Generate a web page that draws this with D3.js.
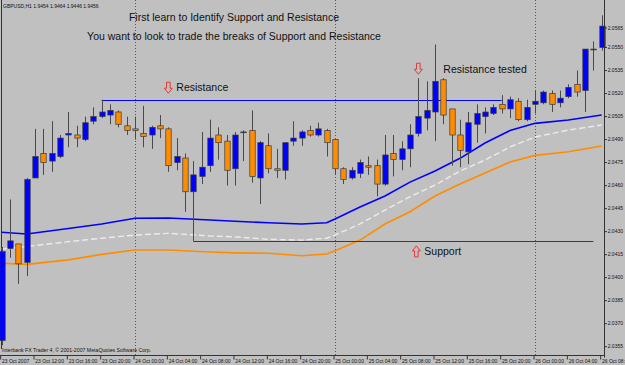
<!DOCTYPE html>
<html>
<head>
<meta charset="utf-8">
<script src="https://cdn.jsdelivr.net/npm/d3@7"></script>
<style>
body { margin: 0; background: #c0c0c0; }
svg { display: block; }
text { font-family: "Liberation Sans", Arial, sans-serif; }
</style>
</head>
<body>
<svg width="625" height="365"></svg>
<script>
// GBPUSD H1 bars, 23 Oct 08:00 -> 26 Oct 08:00
var opens = [2.0359,2.0419,2.0422,2.0410,2.0465,2.0481,2.0476,2.0479,2.0493,2.0493,2.0490,2.0502,2.0505,2.0506,2.0508,2.0499,2.0497,2.0494,2.0493,2.0499,
  2.0497,2.0475,2.0478,2.0456,2.0466,2.0473,2.0493,2.0489,2.0471,2.0495,2.0496,2.0465,2.0486,2.0471,2.0470,2.0489,2.0491,2.0496,2.0493,2.0496,
  2.0490,2.0471,2.0465,2.0468,2.0473,2.0473,2.0461,2.0481,2.0477,2.0484,2.0494,2.0504,2.0508,2.0529,2.0510,2.0493,2.0482,2.0500,2.0505,2.0507,
  2.0513,2.0510,2.0515,2.0503,2.0513,2.0514,2.0520,2.0514,2.0518,2.0526,2.0522,2.0549,2.0550];
var highs = [2.0420,2.0451,2.0422,2.0465,2.0497,2.0497,2.0502,2.0493,2.0508,2.0499,2.0505,2.0511,2.0516,2.0513,2.0509,2.0505,2.0505,2.0512,2.0499,2.0506,
  2.0498,2.0491,2.0481,2.0476,2.0495,2.0503,2.0498,2.0493,2.0495,2.0496,2.0509,2.0489,2.0494,2.0484,2.0488,2.0502,2.0496,2.0499,2.0501,2.0497,
  2.0490,2.0472,2.0472,2.0477,2.0479,2.0477,2.0493,2.0493,2.0489,2.0500,2.0530,2.0528,2.0552,2.0530,2.0510,2.0503,2.0508,2.0513,2.0511,2.0513,
  2.0519,2.0518,2.0517,2.0516,2.0522,2.0522,2.0522,2.0522,2.0526,2.0535,2.0549,2.0554,2.0571];
var lows = [2.0356,2.0413,2.0396,2.0401,2.0465,2.0467,2.0469,2.0478,2.0485,2.0485,2.0489,2.0500,2.0504,2.0500,2.0498,2.0493,2.0490,2.0485,2.0484,2.0491,
  2.0469,2.0470,2.0443,2.0424,2.0461,2.0469,2.0477,2.0460,2.0460,2.0476,2.0462,2.0448,2.0468,2.0465,2.0464,2.0486,2.0486,2.0492,2.0492,2.0479,
  2.0467,2.0461,2.0464,2.0465,2.0467,2.0453,2.0460,2.0466,2.0470,2.0472,2.0492,2.0496,2.0489,2.0500,2.0473,2.0472,2.0474,2.0488,2.0494,2.0506,
  2.0507,2.0504,2.0502,2.0502,2.0507,2.0513,2.0508,2.0511,2.0517,2.0518,2.0508,2.0535,2.0548];
var closes = [2.0417,2.0424,2.0409,2.0464,2.0479,2.0475,2.0481,2.0491,2.0494,2.0491,2.0501,2.0505,2.0508,2.0509,2.0500,2.0496,2.0496,2.0492,2.0498,2.0497,
  2.0473,2.0479,2.0456,2.0467,2.0472,2.0491,2.0488,2.0470,2.0493,2.0495,2.0466,2.0488,2.0471,2.0470,2.0488,2.0491,2.0495,2.0493,2.0497,2.0488,
  2.0471,2.0464,2.0470,2.0475,2.0472,2.0461,2.0480,2.0477,2.0484,2.0493,2.0505,2.0509,2.0528,2.0506,2.0493,2.0483,2.0501,2.0507,2.0508,2.0511,
  2.0510,2.0516,2.0503,2.0511,2.0515,2.0521,2.0513,2.0517,2.0524,2.0521,2.0549,2.0549,2.0564];

// moving averages, read at these bars
var maBars   = [0,3,8,12,16,20,25,28,32,36,39,40,43,46,49,52,55,58,61,64,68,72];
var maBlue   = [2.04296,2.04285,2.04321,2.04350,2.04387,2.04389,2.04376,2.04368,2.04358,2.04350,2.04358,2.04382,2.04461,2.04532,2.04623,2.04695,2.04778,2.04878,2.04959,2.05006,2.05028,2.05060];
var maWhite  = [2.04187,2.04203,2.04235,2.04257,2.04278,2.04289,2.04272,2.04266,2.04250,2.04245,2.04257,2.04278,2.04350,2.04441,2.04528,2.04604,2.04695,2.04767,2.04852,2.04917,2.04962,2.04995];
var maOrange = [2.04094,2.04087,2.04116,2.04152,2.04180,2.04180,2.04167,2.04162,2.04159,2.04143,2.04154,2.04176,2.04245,2.04350,2.04430,2.04532,2.04610,2.04682,2.04754,2.04797,2.04821,2.04858];

// time axis: one label every 4 bars
var timeLabels = ["23 Oct 2007","23 Oct 12:00","23 Oct 16:00","23 Oct 20:00","24 Oct 00:00","24 Oct 04:00","24 Oct 08:00",
  "24 Oct 12:00","24 Oct 16:00","24 Oct 20:00","25 Oct 00:00","25 Oct 04:00","25 Oct 08:00","25 Oct 12:00","25 Oct 16:00",
  "25 Oct 20:00","26 Oct 00:00","26 Oct 04:00","26 Oct 08:00"];
var dayStarts = [16, 40, 64];
var priceTicks = [2.0355,2.0370,2.0385,2.0400,2.0415,2.0430,2.0445,2.0460,2.0475,2.0490,2.0505,2.0520,2.0535,2.0550,2.0565];

// support / resistance
var resistance = {price: 2.0516, from: 12, to: 60};
var support = {price: 2.0424, from: 23, to: 71};

var svg = d3.select("svg"),
    width = +svg.attr("width"),
    height = +svg.attr("height");

var plotRight = 604.5, plotBottom = 355.5;

var x = d3.scaleLinear().domain([0, 72]).range([1.67, 601.67]);
var y = d3.scaleLinear().domain([2.03496, 2.05810]).range([355, 0]);

svg.append("rect").attr("width", width).attr("height", height).attr("fill", "#c0c0c0");

// day separators
svg.append("g").selectAll("line")
  .data(dayStarts)
  .enter().append("line")
    .attr("x1", function(d) { return Math.round(x(d)) + 0.5; })
    .attr("x2", function(d) { return Math.round(x(d)) + 0.5; })
    .attr("y1", 0).attr("y2", plotBottom)
    .style("stroke", "#555")
    .style("stroke-width", 1)
    .style("stroke-dasharray", "1,2");

// left edge
svg.append("line").attr("x1", 1.5).attr("x2", 1.5).attr("y1", 0).attr("y2", 349)
  .style("stroke", "#333").style("stroke-width", 1);

// moving averages
var maLine = function(vals) {
  return d3.line()
    .x(function(d, i) { return x(maBars[i]); })
    .y(function(d) { return y(d); })(vals);
};
svg.append("path").attr("d", maLine(maOrange)).attr("fill", "none")
  .style("stroke", "#ff8c00").style("stroke-width", 1.6);
svg.append("path").attr("d", maLine(maWhite)).attr("fill", "none")
  .style("stroke", "#ececec").style("stroke-width", 1.4).style("stroke-dasharray", "6,3");
svg.append("path").attr("d", maLine(maBlue)).attr("fill", "none")
  .style("stroke", "#0000ff").style("stroke-width", 1.6);

// support and resistance lines
svg.append("line")
  .attr("x1", x(resistance.from)).attr("x2", x(resistance.to))
  .attr("y1", Math.round(y(resistance.price)) + 0.5).attr("y2", Math.round(y(resistance.price)) + 0.5)
  .style("stroke", "#0000ff").style("stroke-width", 1.2);
svg.append("line")
  .attr("x1", x(support.from)).attr("x2", x(support.to))
  .attr("y1", Math.round(y(support.price)) + 0.5).attr("y2", Math.round(y(support.price)) + 0.5)
  .style("stroke", "#a01010").style("stroke-width", 1);

// candles
var bars = d3.range(opens.length);
var candles = svg.append("g").selectAll("g")
  .data(bars)
  .enter().append("g");

candles.append("line")
  .attr("x1", function(i) { return Math.round(x(i)) + 0.5; })
  .attr("x2", function(i) { return Math.round(x(i)) + 0.5; })
  .attr("y1", function(i) { return y(highs[i]); })
  .attr("y2", function(i) { return y(lows[i]); })
  .style("stroke", "#4a4a4a")
  .style("stroke-width", 1);

candles.append("rect")
  .attr("x", function(i) { return Math.round(x(i)) + 0.5 - 2.7; })
  .attr("width", 5.4)
  .attr("y", function(i) { return y(Math.max(opens[i], closes[i])); })
  .attr("height", function(i) { return Math.max(0.8, Math.abs(y(opens[i]) - y(closes[i]))); })
  .style("fill", function(i) { return closes[i] > opens[i] ? "#0000ff" : (closes[i] < opens[i] ? "#ff8c00" : "#222"); })
  .style("stroke", "#3a3a3a")
  .style("stroke-width", 0.7);

// axes
svg.append("line").attr("x1", 0).attr("x2", plotRight).attr("y1", plotBottom).attr("y2", plotBottom)
  .style("stroke", "#333").style("stroke-width", 1);
svg.append("line").attr("x1", plotRight).attr("x2", plotRight).attr("y1", 0).attr("y2", plotBottom + 2)
  .style("stroke", "#333").style("stroke-width", 1);

var pt = svg.append("g").selectAll("g")
  .data(priceTicks)
  .enter().append("g")
    .attr("transform", function(d) { return "translate(" + plotRight + "," + Math.max(28, y(d)) + ")"; });
pt.append("line").attr("x1", 0).attr("x2", 2.5).attr("y1", 0).attr("y2", 0)
  .style("stroke", "#333").style("stroke-width", 1);
pt.append("text").attr("x", 3.2).attr("dy", "0.35em")
  .style("font-size", "5px").style("fill", "#111")
  .text(function(d) { return d.toFixed(4); });

var tt = svg.append("g").selectAll("g")
  .data(timeLabels)
  .enter().append("g")
    .attr("transform", function(d, i) { return "translate(" + (x(i * 4) - 1.5) + "," + plotBottom + ")"; });
tt.append("line").attr("x1", 0.5).attr("x2", 0.5).attr("y1", 0).attr("y2", 4)
  .style("stroke", "#333").style("stroke-width", 1);
tt.append("text").attr("x", 1.8).attr("y", 7.3)
  .style("font-size", "5px").style("fill", "#111")
  .text(function(d) { return d; });

// header and footer
svg.append("text").attr("x", 3).attr("y", 8).style("font-size", "5px").style("fill", "#111")
  .text("GBPUSD,H1  1.9454 1.9464 1.9446 1.9456");
svg.append("text").attr("x", 2).attr("y", 352).style("font-size", "5.2px").style("fill", "#111")
  .text("Interbank FX Trader 4, \u00a9 2001-2007 MetaQuotes Software Corp.");

// titles
svg.append("text").attr("x", 234).attr("y", 21).attr("text-anchor", "middle")
  .style("font-size", "10.5px").style("fill", "#111")
  .text("First learn to Identify Support and Resistance");
svg.append("text").attr("x", 234).attr("y", 40).attr("text-anchor", "middle")
  .style("font-size", "10.5px").style("fill", "#111")
  .text("You want to look to trade the breaks of Support and Resistance");

// annotations: arrows drawn around a tip point
function arrow(cx, tipY, dir) {
  var s = dir; // 1 = pointing down, -1 = pointing up
  var p = [[0,0],[-4,-5*s],[-1.8,-5*s],[-1.8,-11*s],[1.8,-11*s],[1.8,-5*s],[4,-5*s]];
  svg.append("path")
    .attr("d", "M" + p.map(function(q) { return (cx + q[0]) + "," + (tipY + q[1]); }).join("L") + "Z")
    .attr("fill", "none")
    .style("stroke", "#e03a3a").style("stroke-width", 1);
}
arrow(x(20), y(resistance.price) - 6.5, 1);
svg.append("text").attr("x", x(20) + 8).attr("y", y(resistance.price) - 8.5)
  .style("font-size", "10.5px").style("fill", "#111").text("Resistance");
arrow(x(50), y(highs[50]) - 4, 1);
svg.append("text").attr("x", x(50) + 25).attr("y", y(highs[50]) - 5)
  .style("font-size", "10.5px").style("fill", "#111").text("Resistance tested");
arrow(x(50) - 2, y(support.price) + 5, -1);
svg.append("text").attr("x", x(50) + 6).attr("y", y(support.price) + 14)
  .style("font-size", "10.5px").style("fill", "#111").text("Support");
</script>
</body>
</html>
